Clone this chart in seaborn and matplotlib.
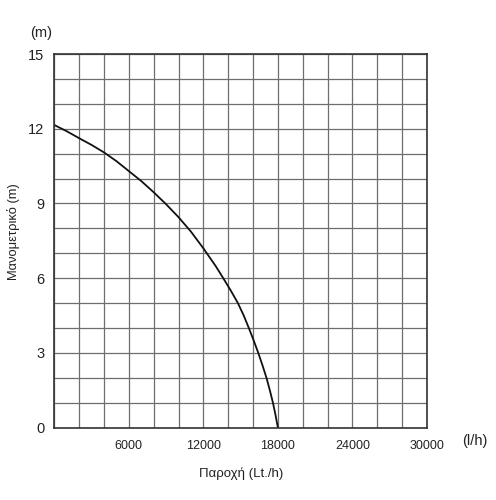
import matplotlib
matplotlib.use("Agg")
import matplotlib.pyplot as plt
import seaborn as sns
import pandas as pd

# Data (flow in l/h, head in m)
flow = [0, 1000, 2000, 3000, 4000, 5000, 6000, 7000, 8000, 9000, 10000,
        11000, 12000, 13000, 13600, 14210, 14780, 15250, 15660, 16050, 16420,
        16760, 17080, 17350, 17600, 17810, 18000]
head = [12.15, 11.9, 11.62, 11.35, 11.05, 10.7, 10.3, 9.9, 9.45, 8.97, 8.45,
        7.87, 7.2, 6.48, 6.0, 5.5, 5.0, 4.5, 4.0, 3.5, 3.0,
        2.5, 2.0, 1.5, 1.0, 0.5, 0.0]

x_ticks = [6000, 12000, 18000, 24000, 30000]
x_tick_labels = ["6000", "12000", "18000", "24000", "30000"]
y_ticks = [0, 3, 6, 9, 12, 15]
y_tick_labels = ["0", "3", "6", "9", "12", "15"]

df = pd.DataFrame({"flow": flow, "head": head})

sns.set_theme(style="white")
plt.rcParams["font.family"] = ["Liberation Sans", "DejaVu Sans"]

fig = plt.figure(figsize=(4.96, 5.0), dpi=100)
ax = fig.add_axes([54.3 / 496, 1 - 427.7 / 500, (427 - 54.3) / 496, (427.7 - 54) / 500])

sns.lineplot(data=df, x="flow", y="head", ax=ax, color="#111111", linewidth=1.3, sort=False)

ax.set_xlim(0, 30000)
ax.set_ylim(0, 15)
ax.set_xticks(x_ticks)
ax.set_xticklabels(x_tick_labels, fontsize=9, color="#222222")
ax.set_yticks(y_ticks)
ax.set_yticklabels(y_tick_labels, fontsize=10.5, color="#222222")
ax.set_xticks(range(0, 30001, 2000), minor=True)
ax.set_yticks(range(0, 16, 1), minor=True)
ax.grid(which="both", color="#6e6e6e", linewidth=0.9)
ax.tick_params(axis="both", which="both", length=0)
ax.tick_params(axis="x", pad=9)
ax.tick_params(axis="y", pad=7)

for s in ax.spines.values():
    s.set_color("#333333")
    s.set_linewidth(1.2)

ax.set_xlabel("Παροχή (Lt./h)", fontsize=9.5, color="#222222")
ax.set_ylabel("Μανομετρικό (m)", fontsize=9.3, color="#222222")
ax.xaxis.set_label_coords((241 - 54.3) / 372.7, (427.7 - 468) / 373.7)
ax.yaxis.set_label_coords((20 - 54.3) / 372.7, (427.7 - 231.5) / 373.7)

fig.text(30 / 496, 1 - 33 / 500, "(m)", fontsize=10.5, color="#222222", ha="left", va="center")
fig.text(475 / 496, 1 - 441 / 500, "(l/h)", fontsize=10.5, color="#222222", ha="center", va="center")

fig.savefig("out.png", dpi=100)
